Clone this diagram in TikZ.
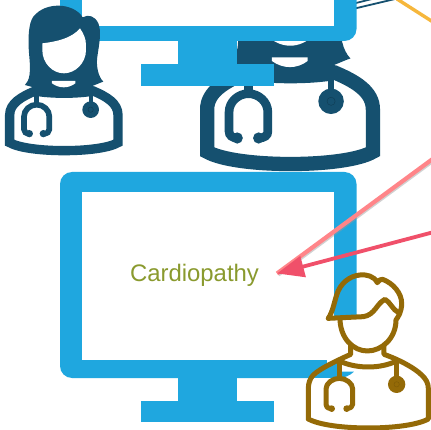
\documentclass[tikz,border=0pt]{standalone}
\usepackage{fontspec}
\setmainfont{Liberation Sans}
\usetikzlibrary{arrows.meta}
\definecolor{monblue}{HTML}{1FA7DF}
\definecolor{docdark}{HTML}{15506F}
\definecolor{docgold}{HTML}{946A07}
\definecolor{olive}{HTML}{8A9A2E}
\definecolor{pinkline}{HTML}{FF8589}
\definecolor{redline}{HTML}{F0506A}
\definecolor{linkyellow}{HTML}{F6B73C}
\tikzset{
  monstand/.style={fill=monblue,draw=none},
  monouter/.style={fill=monblue,draw=none,rounded corners=12pt},
  moninner/.style={fill=white,draw=none},
  arrowshadow/.style={draw=black!40,opacity=.45,line width=3pt},
  goldline/.style={docgold,line width=5pt,line join=round,line cap=round},
}
\newcommand\femaledoc[3]{%
\begin{scope}[shift={(#1,#2)},x=#3pt,y=-#3pt]
  \draw[docdark,fill=white,line width=28*#3pt,miter limit=4]
    (29,428) -- (29,345) .. controls (29,310) and (65,290) .. (105,273)
    .. controls (150,282) and (235,282) .. (280,273)
    .. controls (320,290) and (354,310) .. (354,345) -- (354,428)
    .. controls (300,460) and (85,460) .. cycle;
  \fill[docdark] (75,255) .. controls (90,240) and (92,215) .. (88,170)
    .. controls (83,120) and (85,70) .. (100,50)
    .. controls (120,25) and (150,17) .. (175,17)
    .. controls (205,17) and (235,30) .. (248,52)
    .. controls (265,42) and (285,48) .. (295,70)
    .. controls (305,95) and (298,130) .. (292,170)
    .. controls (288,200) and (295,230) .. (310,245)
    .. controls (295,250) and (280,258) .. (265,262)
    -- (100,262) -- cycle;
  \fill[docdark] (100,258) rectangle (280,285);
  \fill[white] (127,130) .. controls (170,125) and (215,115) .. (240,85)
    .. controls (250,100) and (258,115) .. (258,135) -- (258,150)
    .. controls (258,190) and (225,220) .. (192,220)
    .. controls (158,220) and (127,190) .. (127,150) -- cycle;
  \fill[white] (156,243) -- (226,243) -- (226,250)
    .. controls (205,266) and (178,266) .. (156,250) -- cycle;
  \draw[docdark,line width=17*#3pt] (110,285) -- (110,314);
  \draw[docdark,line width=17*#3pt]
    (88,401) .. controls (78,401) and (72,396) .. (72,388) -- (72,350)
    .. controls (72,330) and (90,314) .. (110,314)
    .. controls (130,314) and (148,330) .. (148,350) -- (148,388)
    .. controls (148,396) and (142,401) .. (130,401);
  \fill[docdark] (88,401) circle[radius=11] (130,401) circle[radius=11];
  \draw[docdark,line width=12*#3pt] (272,280) -- (272,320);
  \fill[docdark] (272,329) circle[radius=25];
  \draw[black!25!docdark,line width=.4pt] (272,329) circle[radius=8];
\end{scope}}
\begin{document}
\begin{tikzpicture}[x=1pt,y=-1pt]
\useasboundingbox (0,0) rectangle (431,430);
\clip (0,0) rectangle (431,430);
\fill[white] (0,0) rectangle (431,430);

\draw[docdark,line width=1.8pt] (340,12) -- (395,-1);
\draw[docdark,line width=1.8pt] (340,7) -- (372,-1);
\draw[linkyellow,line width=3.4pt] (397,-1) -- (433,22);

\femaledoc{192.35}{-66.5}{0.51}

\fill[monouter] (60,-40) rectangle (356.5,41);
\fill[moninner] (82,-40) rectangle (334,26);
\fill[monstand] (178,41) rectangle (237,65);
\fill[monstand] (141,64) rectangle (274,86);

\femaledoc{0}{0}{0.3333}

\fill[monouter] (60,172) rectangle (356.5,378);
\fill[moninner] (82,192) rectangle (334,360);
\fill[monstand] (178,378) rectangle (237,402);
\fill[monstand] (141,401) rectangle (274,422);

\node[font=\fontsize{23.9}{26}\selectfont,text=olive,anchor=base,inner sep=0pt] (lab) at (194.5,282) {Cardiopathy};
\coordinate (tip) at (277,273.5);
\coordinate (pinkstart) at (434,158);
\coordinate (redstart) at (434,232);
\draw[arrowshadow] ([xshift=1.5pt,yshift=-1.5pt]pinkstart) -- ([xshift=1.5pt,yshift=-1.5pt]tip);
\draw[pinkline,line width=4.2pt] (pinkstart) -- (tip);
\draw[redline,line width=3.8pt,-{Triangle[length=27pt,width=21pt]}] (redstart) -- (tip);

\fill[white] (327,317) rectangle (358,378);
\begin{scope}[shift={(300,345)},x=0.3333pt,y=-0.3333pt]
  \fill[white] (25,220) -- (25,130) .. controls (30,95) and (80,60) .. (150,28)
    -- (260,28) .. controls (340,65) and (380,95) .. (385,130) -- (385,220)
    .. controls (320,258) and (90,258) .. cycle;
  \fill[monblue] (38,99) -- (80,68) -- (118,48) -- (118,80) -- (162,80)
    .. controls (150,92) and (135,97) .. (120,99) -- cycle;
  \begin{scope}[goldline]
    \draw (152,-5) -- (152,28) .. controls (115,45) and (60,70) .. (40,90)
      .. controls (30,100) and (25,115) .. (25,130) -- (25,222);
    \draw (252,-5) -- (252,28) .. controls (300,45) and (345,70) .. (365,90)
      .. controls (378,102) and (385,115) .. (385,130) -- (385,222)
      .. controls (320,258) and (90,258) .. (25,222);
    \draw (118,48) .. controls (170,72) and (240,72) .. (290,48);
    \draw (118,48) -- (118,100);
    \draw (92,190) .. controls (82,190) and (78,185) .. (78,178) -- (78,132)
      .. controls (78,115) and (98,100) .. (118,100)
      .. controls (138,100) and (158,115) .. (158,132) -- (158,178)
      .. controls (158,185) and (152,190) .. (140,190);
    \draw (290,48) -- (290,95);
  \end{scope}
  \fill[docgold] (95,191) circle[radius=10] (140,191) circle[radius=10];
  \fill[docgold] (290,118) circle[radius=26];
  \draw[black!15!docgold,line width=.4pt] (290,118) circle[radius=8];
\end{scope}
\begin{scope}[shift={(320,270)},x=0.3333pt,y=-0.3333pt]
  \fill[white] (60,142) -- (232,130) -- (228,150)
    .. controls (228,205) and (185,243) .. (142,243)
    .. controls (100,243) and (60,205) .. (60,145) -- cycle;
  \begin{scope}[goldline]
    \draw (25,145) .. controls (38,125) and (42,100) .. (50,75)
      .. controls (60,40) and (90,17) .. (120,15)
      .. controls (140,13) and (162,18) .. (172,38)
      .. controls (175,30) and (182,28) .. (188,28)
      .. controls (220,40) and (245,70) .. (245,100)
      .. controls (245,125) and (235,140) .. (228,150)
      .. controls (228,205) and (185,243) .. (142,243)
      .. controls (100,243) and (60,205) .. (60,145);
    \draw (25,145) -- (130,140) .. controls (165,135) and (170,100) .. (195,88)
      .. controls (210,95) and (218,120) .. (236,128);
  \end{scope}
\end{scope}
\end{tikzpicture}
\end{document}
